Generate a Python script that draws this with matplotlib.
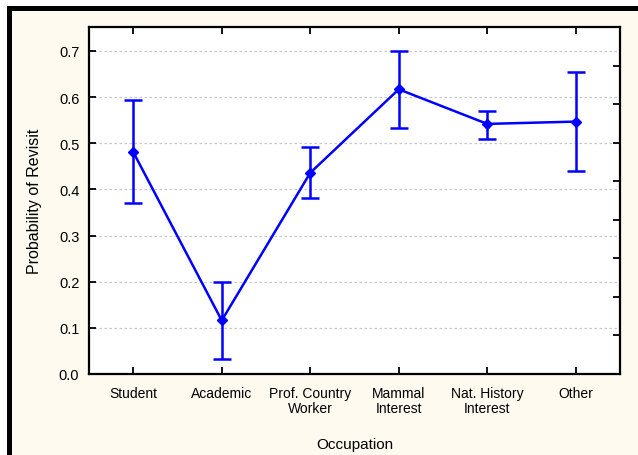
import numpy as np
import matplotlib
matplotlib.use("Agg")
import matplotlib.pyplot as plt
from matplotlib.patches import Rectangle

plt.rcParams["font.family"] = ["Liberation Sans", "DejaVu Sans"]

# --- data ---
occupations = ["Student", "Academic", "Prof. Country\nWorker", "Mammal\nInterest",
               "Nat. History\nInterest", "Other"]
prob_mean = [0.481, 0.116, 0.436, 0.617, 0.542, 0.547]
ci_upper = [0.593, 0.199, 0.492, 0.700, 0.570, 0.655]
ci_lower = [0.371, 0.033, 0.381, 0.534, 0.510, 0.441]
y_ticks = [0.0, 0.1, 0.2, 0.3, 0.4, 0.5, 0.6, 0.7]

W, H = 638, 456
fig = plt.figure(figsize=(W / 100, H / 100), dpi=100, facecolor="white")

# black frame (top/left) + cream panel
fig.add_artist(Rectangle((7 / W, -0.1), 1.2, (H - 7) / H + 0.1, transform=fig.transFigure,
                         facecolor="black", edgecolor="none", zorder=0))
fig.add_artist(Rectangle((12 / W, -0.1), 1.2, (H - 12) / H + 0.1, transform=fig.transFigure,
                         facecolor="#fefaf0", edgecolor="none", zorder=0))

ax = fig.add_axes([89 / W, (H - 375) / H, (620 - 89) / W, (375 - 28) / H])
ax.set_facecolor("white")

x = np.arange(len(occupations))
mean = np.array(prob_mean)
yerr = np.vstack([mean - np.array(ci_lower), np.array(ci_upper) - mean])
ax.errorbar(x, mean, yerr=yerr, color="#0000ff", lw=1.8, marker="D", ms=5,
            capsize=6.5, capthick=1.8, elinewidth=1.8, zorder=3)

ax.set_xlim(-0.5, 5.5)
ax.set_ylim(0, 0.752)
ax.set_xticks(x)
ax.set_xticklabels(occupations, fontsize=10, linespacing=1.05)
ax.set_yticks(y_ticks)
ax.set_yticklabels([f"{v:.1f}" for v in y_ticks], fontsize=10.5)
ax.tick_params(axis="both", direction="in", length=5, width=1.3, colors="black")
ax.tick_params(axis="x", top=True, pad=9)
ax.tick_params(axis="y", pad=7)
for v in y_ticks[1:]:
    ax.axhline(v, color="#c8c8c8", lw=0.9, ls=(0, (2, 2)), zorder=1)
for s in ax.spines.values():
    s.set_linewidth(1.6)

# right-hand ticks on their own scale (9 divisions)
ax2 = ax.twinx()
ax2.set_ylim(0, 1)
ax2.set_yticks(np.linspace(0, 1, 10))
ax2.set_yticklabels([])
ax2.tick_params(axis="y", direction="in", length=5, width=1.3)
for s in ax2.spines.values():
    s.set_visible(False)

ax.set_ylabel("Probability of Revisit", fontsize=11.5, labelpad=12)
ax.set_xlabel("Occupation", fontsize=11, labelpad=16)

fig.savefig("out.png", dpi=100, facecolor="white")
